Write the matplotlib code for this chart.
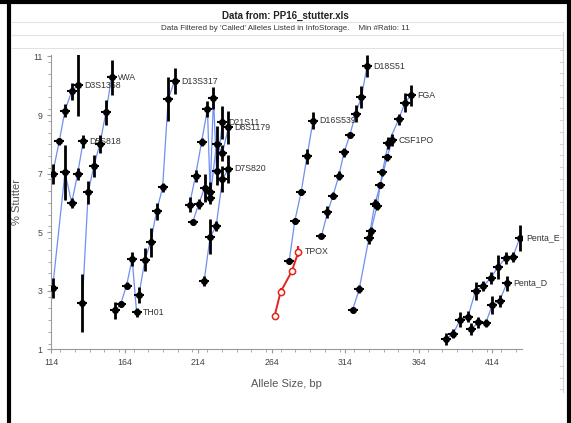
#Stutter ratio per allele size, one line per locus

from matplotlib import pyplot as plt
from matplotlib.lines import Line2D
from matplotlib.ticker import MultipleLocator
import numpy as np

plt.rcParams['font.family'] = ['Liberation Sans', 'DejaVu Sans']

#values: allele size (bp), % stutter, error (+/-)
d3s1358_x = [114.9, 119.4, 123.3, 127.9, 131.9]
d3s1358_y = [6.99, 8.10, 9.15, 9.81, 10.02]
d3s1358_e = [0.35, 0.12, 0.22, 0.28, 1.05]

d5s818_x = [114.9, 123.3, 127.9, 131.9, 135.7]
d5s818_y = [3.09, 7.04, 6.00, 6.99, 8.10]
d5s818_e = [0.34, 0.94, 0.17, 0.20, 0.23]

vwa_x = [135.1, 139.1, 143.0, 147.1, 151.2, 155.0]
vwa_y = [2.58, 6.36, 7.27, 8.02, 9.10, 10.29]
vwa_e = [0.98, 0.40, 0.38, 0.31, 0.43, 0.60]

th01_x = [157.3, 161.1, 165.2, 169.0, 172.0]
th01_y = [2.33, 2.54, 3.18, 4.09, 2.27]
th01_e = [0.28, 0.10, 0.12, 0.25, 0.15]

d13s317_x = [173.6, 177.7, 181.5, 185.6, 189.7, 193.5, 197.8]
d13s317_y = [2.86, 4.06, 4.65, 5.71, 6.53, 9.55, 10.16]
d13s317_e = [0.28, 0.40, 0.50, 0.28, 0.14, 0.74, 0.45]

d21s11_x = [208.0, 212.1, 216.2, 220.2, 222.0, 224.3, 226.4, 230.4]
d21s11_y = [5.94, 6.93, 8.08, 9.21, 6.37, 9.59, 7.10, 8.75]
d21s11_e = [0.25, 0.20, 0.14, 0.28, 0.34, 0.37, 0.50, 0.57]

d8s1179_x = [210.1, 214.3, 218.2, 222.0, 226.4, 230.4, 234.5]
d8s1179_y = [5.34, 5.97, 6.51, 6.17, 8.02, 7.71, 8.58]
d8s1179_e = [0.10, 0.17, 0.48, 0.20, 0.60, 0.28, 0.57]

d7s820_x = [217.9, 222.0, 226.1, 230.4, 234.5]
d7s820_y = [3.32, 4.84, 5.20, 6.82, 7.16]
d7s820_e = [0.17, 0.60, 0.17, 0.43, 0.48]

tpox_x = [265.9, 269.9, 277.5, 282.1]
tpox_y = [2.15, 2.96, 3.66, 4.34]
tpox_e = [0.05, 0.15, 0.08, 0.20]

d16s539_x = [275.8, 279.6, 283.9, 287.9, 292.0]
d16s539_y = [4.03, 5.39, 6.37, 7.59, 8.81]
d16s539_e = [0.10, 0.10, 0.10, 0.25, 0.30]

d18s51_x = [297.7, 301.8, 305.6, 309.5, 313.1, 317.0, 321.0, 324.9, 328.7]
d18s51_y = [4.86, 5.68, 6.25, 6.93, 7.73, 8.31, 9.05, 9.62, 10.67]
d18s51_e = [0.05, 0.20, 0.12, 0.15, 0.15, 0.10, 0.30, 0.37, 0.37]

csf1po_x = [318.9, 323.4, 330.0, 334.0, 337.8, 342.3, 345.9]
csf1po_y = [2.35, 3.06, 4.80, 5.97, 6.62, 7.56, 8.14]
csf1po_e = [0.10, 0.15, 0.20, 0.15, 0.10, 0.12, 0.20]

fga_x = [331.3, 335.5, 339.1, 343.2, 350.2, 354.5, 358.4]
fga_y = [5.03, 5.91, 7.04, 8.05, 8.85, 9.42, 9.67]
fga_e = [0.15, 0.15, 0.12, 0.20, 0.20, 0.32, 0.37]

penta_e_x = [382.1, 387.1, 392.1, 397.3, 402.5, 407.5, 412.7, 417.7, 422.9, 427.9, 432.5]
penta_e_y = [1.36, 1.53, 2.01, 2.12, 3.00, 3.15, 3.43, 3.81, 4.12, 4.17, 4.80]
penta_e_e = [0.20, 0.15, 0.25, 0.20, 0.30, 0.17, 0.20, 0.40, 0.20, 0.17, 0.45]

penta_d_x = [399.4, 404.4, 409.4, 413.9, 418.8, 423.8]
penta_d_y = [1.69, 1.92, 1.90, 2.52, 2.66, 3.26]
penta_d_e = [0.20, 0.20, 0.15, 0.30, 0.20, 0.25]

x_ticks = [114, 164, 214, 264, 314, 364, 414]
y_ticks = [1, 3, 5, 7, 9, 11]

#the blue loci, drawn the same way
loci = [
    ('D3S1358', d3s1358_x, d3s1358_y, d3s1358_e),
    ('D5S818', d5s818_x, d5s818_y, d5s818_e),
    ('vWA', vwa_x, vwa_y, vwa_e),
    ('TH01', th01_x, th01_y, th01_e),
    ('D13S317', d13s317_x, d13s317_y, d13s317_e),
    ('D21S11', d21s11_x, d21s11_y, d21s11_e),
    ('D8S1179', d8s1179_x, d8s1179_y, d8s1179_e),
    ('D7S820', d7s820_x, d7s820_y, d7s820_e),
    ('D16S539', d16s539_x, d16s539_y, d16s539_e),
    ('D18S51', d18s51_x, d18s51_y, d18s51_e),
    ('CSF1PO', csf1po_x, csf1po_y, csf1po_e),
    ('FGA', fga_x, fga_y, fga_e),
    ('Penta_E', penta_e_x, penta_e_y, penta_e_e),
    ('Penta_D', penta_d_x, penta_d_y, penta_d_e),
]

fig = plt.figure(figsize=(5.71, 4.23), dpi=100)
ax = fig.add_axes([0.0898, 0.174, 0.8242, 0.696])

blue = '#6f8ff2'
label_color = '#333333'

for name, xs, ys, es in loci:
    ax.plot(xs, ys, color=blue, lw=0.9, zorder=2)
    ax.errorbar(xs, ys, yerr=es, fmt='none', ecolor='black', elinewidth=2.0, capsize=0, zorder=3)
    ax.plot(xs, ys, 'o', color='black', ms=4, zorder=4)
    ax.plot(xs, ys, '_', color='black', ms=6.5, mew=1.5, zorder=4)
    ax.annotate(name, (xs[-1], ys[-1]), xytext=(4.5, 0), textcoords='offset points',
                va='center', ha='left', fontsize=6.3, color=label_color, clip_on=False)

#TPOX is the red one with open markers
ax.errorbar(tpox_x, tpox_y, yerr=tpox_e, fmt='none', ecolor='#e3241b', elinewidth=1.6, capsize=0, zorder=3)
ax.plot(tpox_x, tpox_y, '-o', color='#e3241b', lw=1.4, ms=4.5, mfc='white', mec='#e3241b', mew=1.1, zorder=4)
ax.annotate('TPOX', (tpox_x[-1], tpox_y[-1]), xytext=(4.5, 0), textcoords='offset points',
            va='center', ha='left', fontsize=6.3, color=label_color)

#axes
ax.set_xlim(114, 434)
ax.set_ylim(1, 11.05)
ax.set_xticks(x_ticks)
ax.set_yticks(y_ticks)
ax.xaxis.set_minor_locator(MultipleLocator(10))
ax.yaxis.set_minor_locator(MultipleLocator(0.4))
for side in ['top', 'right']:
    ax.spines[side].set_visible(False)
for side in ['left', 'bottom']:
    ax.spines[side].set_color('#9a9a9a')
ax.tick_params(which='both', colors='#9a9a9a', labelcolor='#444444', labelsize=6.3, direction='out')
ax.tick_params(which='major', length=3)
ax.tick_params(which='minor', length=2)

ax.set_xlabel('Allele Size, bp', fontsize=8, color='#555555', labelpad=8)
ax.set_ylabel('% Stutter', fontsize=8, color='#555555', labelpad=8)

#header texts
fig.text(0.5, 1 - 16 / 423, 'Data from: PP16_stutter.xls', ha='center', va='center',
         fontsize=7, fontweight='bold', color='#222222')
fig.text(0.5, 1 - 29 / 423, "Data Filtered by 'Called' Alleles Listed in InfoStorage.    Min #Ratio: 11",
         ha='center', va='center', fontsize=5.8, color='#333333')

#light grey separator lines and the faint scale on the right
for yy in [22, 35, 48]:
    fig.add_artist(Line2D([12 / 571, 563 / 571], [1 - yy / 423, 1 - yy / 423], color='#dde3ea', lw=0.8))
fig.add_artist(Line2D([563 / 571, 563 / 571], [1 - 32 / 423, 1 - 392 / 423], color='#d5d5d5', lw=0.8))
for yy in np.arange(50, 392, 11.7):
    fig.add_artist(Line2D([560 / 571, 563 / 571], [1 - yy / 423, 1 - yy / 423], color='#d5d5d5', lw=0.8))

#black frame around the window
fig.add_artist(Line2D([0, 1], [1 - 2 / 423, 1 - 2 / 423], color='black', lw=3))
fig.add_artist(Line2D([9 / 571, 9 / 571], [0, 1], color='black', lw=3))
fig.add_artist(Line2D([569 / 571, 569 / 571], [0, 1], color='black', lw=3))

plt.savefig('out.png', dpi=100)
